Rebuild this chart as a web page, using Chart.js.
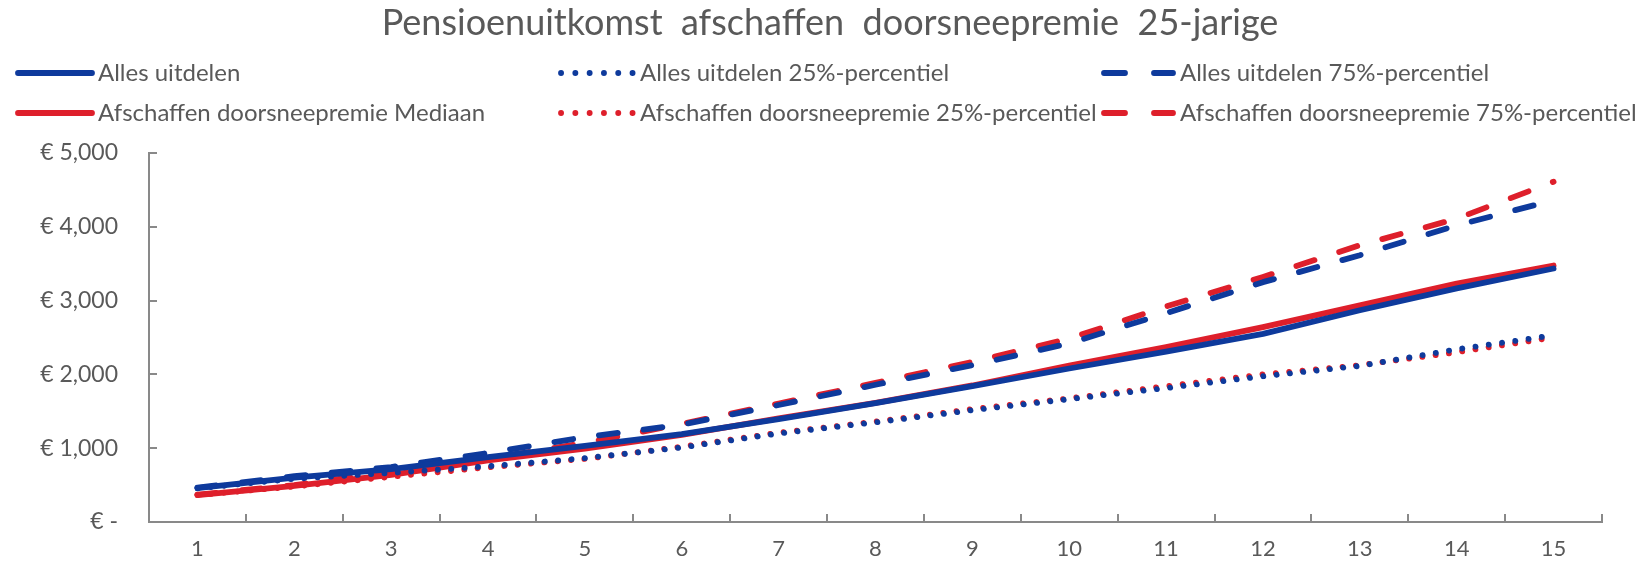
<!DOCTYPE html>
<html lang="nl">
<head>
<meta charset="utf-8">
<title>Pensioenuitkomst afschaffen doorsneepremie 25-jarige</title>
<script src="https://cdn.jsdelivr.net/npm/chart.js@4/dist/chart.umd.min.js"></script>
<style>
  html, body { margin: 0; padding: 0; background: #ffffff; }
  #wrap { width: 1637px; height: 568px; position: relative; }
</style>
</head>
<body>
<div id="wrap"><canvas id="chart" width="1637" height="568"></canvas></div>
<script>
// Jaren (categorieën) op de x-as
const categories = ['1','2','3','4','5','6','7','8','9','10','11','12','13','14','15'];

// Pensioenuitkomst in euro per scenario
const allesMediaan      = [460, 600, 715, 880, 1030, 1190, 1395, 1610, 1840, 2080, 2310, 2550, 2870, 3165, 3435];
const alles25           = [455, 585, 665, 755, 865, 1010, 1200, 1350, 1515, 1665, 1815, 1975, 2115, 2340, 2530];
const alles75           = [465, 620, 745, 935, 1150, 1320, 1585, 1860, 2125, 2420, 2830, 3250, 3615, 4020, 4360];
const afschaffenMediaan = [365, 490, 640, 835, 995, 1180, 1405, 1615, 1850, 2120, 2370, 2640, 2935, 3230, 3475];
const afschaffen25      = [365, 480, 612, 740, 855, 1020, 1210, 1360, 1530, 1675, 1840, 2000, 2125, 2300, 2500];
const afschaffen75      = [370, 500, 680, 860, 1070, 1330, 1605, 1885, 2170, 2485, 2920, 3320, 3750, 4110, 4610];

// Waarden op de y-as
const yTickValues = [0, 1000, 2000, 3000, 4000, 5000];

const BLUE = '#0E3A9C';
const RED = '#DE1F2B';
const GREY_TEXT = '#595959';
const GREY_AXIS = '#898989';
const FONT = 'Lato, "Open Sans", sans-serif';

const SOLID = [];
const DOTTED = [0.1, 13.3];
const DASHED = [19, 26];

function series(label, data, color, dash) {
  return {
    label, data,
    borderColor: color,
    backgroundColor: color,
    borderWidth: 5.8,
    borderDash: dash,
    borderCapStyle: 'round',
    borderJoinStyle: 'round',
    pointRadius: 0,
    pointHoverRadius: 0,
    tension: 0,
    fill: false
  };
}

// Legenda in drie kolommen en twee rijen
const legendPlugin = {
  id: 'gridLegend',
  afterDraw(chart) {
    const ctx = chart.ctx;
    const cols = [16, 558, 1098];
    const rows = [73, 113];
    const swatch = 78;
    chart.data.datasets.forEach((ds, i) => {
      const x = cols[i % 3];
      const y = rows[Math.floor(i / 3)];
      ctx.save();
      ctx.strokeStyle = ds.borderColor;
      ctx.lineWidth = ds.borderWidth;
      ctx.lineCap = 'round';
      if (ds.borderDash.length === 2 && ds.borderDash[0] > 1) {
        ctx.setLineDash([21, 29]);
        ctx.beginPath();
        ctx.moveTo(x + 6, y);
        ctx.lineTo(x + swatch - 3, y);
        ctx.stroke();
      } else if (ds.borderDash.length === 2) {
        ctx.setLineDash([0.1, 14.2]);
        ctx.beginPath();
        ctx.moveTo(x + 3, y);
        ctx.lineTo(x + swatch, y);
        ctx.stroke();
      } else {
        ctx.beginPath();
        ctx.moveTo(x + 2, y);
        ctx.lineTo(x + swatch - 2, y);
        ctx.stroke();
      }
      ctx.setLineDash([]);
      ctx.fillStyle = GREY_TEXT;
      ctx.font = '24px ' + FONT;
      ctx.textBaseline = 'middle';
      ctx.textAlign = 'left';
      ctx.fillText(ds.label, x + swatch + 4, y);
      ctx.restore();
    });
  }
};

// Titel boven de legenda
const titlePlugin = {
  id: 'topTitle',
  afterDraw(chart) {
    const ctx = chart.ctx;
    ctx.save();
    ctx.fillStyle = GREY_TEXT;
    ctx.font = '36px ' + FONT;
    ctx.textAlign = 'center';
    ctx.textBaseline = 'middle';
    ctx.fillText('Pensioenuitkomst  afschaffen  doorsneepremie  25-jarige', 830, 23);
    ctx.restore();
  }
};

// Korte streepjes naar binnen langs beide assen
const innerTicksPlugin = {
  id: 'innerTicks',
  beforeDatasetsDraw(chart) {
    const ctx = chart.ctx;
    const xs = chart.scales.x;
    const ys = chart.scales.y;
    ctx.save();
    ctx.strokeStyle = GREY_AXIS;
    ctx.lineWidth = 2;
    ctx.beginPath();
    ys.ticks.forEach(t => {
      if (t.value === 0) return;
      const py = Math.round(ys.getPixelForValue(t.value));
      ctx.moveTo(xs.left, py);
      ctx.lineTo(xs.left + 8, py);
    });
    const n = chart.data.labels.length;
    const w = (xs.right - xs.left) / n;
    for (let k = 1; k <= n; k++) {
      const px = Math.round(xs.getPixelForValue(k - 1) + w / 2);
      ctx.moveTo(px, ys.bottom);
      ctx.lineTo(px, ys.bottom - 8);
    }
    ctx.stroke();
    ctx.restore();
  }
};

new Chart(document.getElementById('chart'), {
  type: 'line',
  data: {
    labels: categories,
    datasets: [
      series('Alles uitdelen', allesMediaan, BLUE, SOLID),
      series('Alles uitdelen 25%-percentiel', alles25, BLUE, DOTTED),
      series('Alles uitdelen 75%-percentiel', alles75, BLUE, DASHED),
      series('Afschaffen doorsneepremie Mediaan', afschaffenMediaan, RED, SOLID),
      series('Afschaffen doorsneepremie 25%-percentiel', afschaffen25, RED, DOTTED),
      series('Afschaffen doorsneepremie 75%-percentiel', afschaffen75, RED, DASHED)
    ]
  },
  options: {
    responsive: false,
    animation: false,
    layout: { padding: { top: 153, right: 35, left: 0, bottom: 0 } },
    plugins: {
      legend: { display: false },
      title: { display: false },
      tooltip: { enabled: false }
    },
    scales: {
      x: {
        type: 'category',
        offset: true,
        grid: { display: true, drawOnChartArea: false, drawTicks: false, offset: true },
        border: { display: true, color: GREY_AXIS, width: 2 },
        ticks: { color: GREY_TEXT, font: { family: FONT, size: 22 }, padding: 14, maxRotation: 0, autoSkip: false },
        afterFit(scale) { scale.height = 46; }
      },
      y: {
        min: 0,
        max: 5000,
        afterBuildTicks(scale) { scale.ticks = yTickValues.map(v => ({ value: v })); },
        grid: { display: true, drawOnChartArea: false, drawTicks: false },
        border: { display: true, color: GREY_AXIS, width: 2 },
        ticks: {
          color: GREY_TEXT,
          font: { family: FONT, size: 23 },
          padding: 31,
          callback: v => v === 0 ? '€ -' : '€ ' + Number(v).toLocaleString('en-US')
        },
        afterFit(scale) { scale.width = 149; }
      }
    }
  },
  plugins: [innerTicksPlugin, legendPlugin, titlePlugin]
});
</script>
</body>
</html>
